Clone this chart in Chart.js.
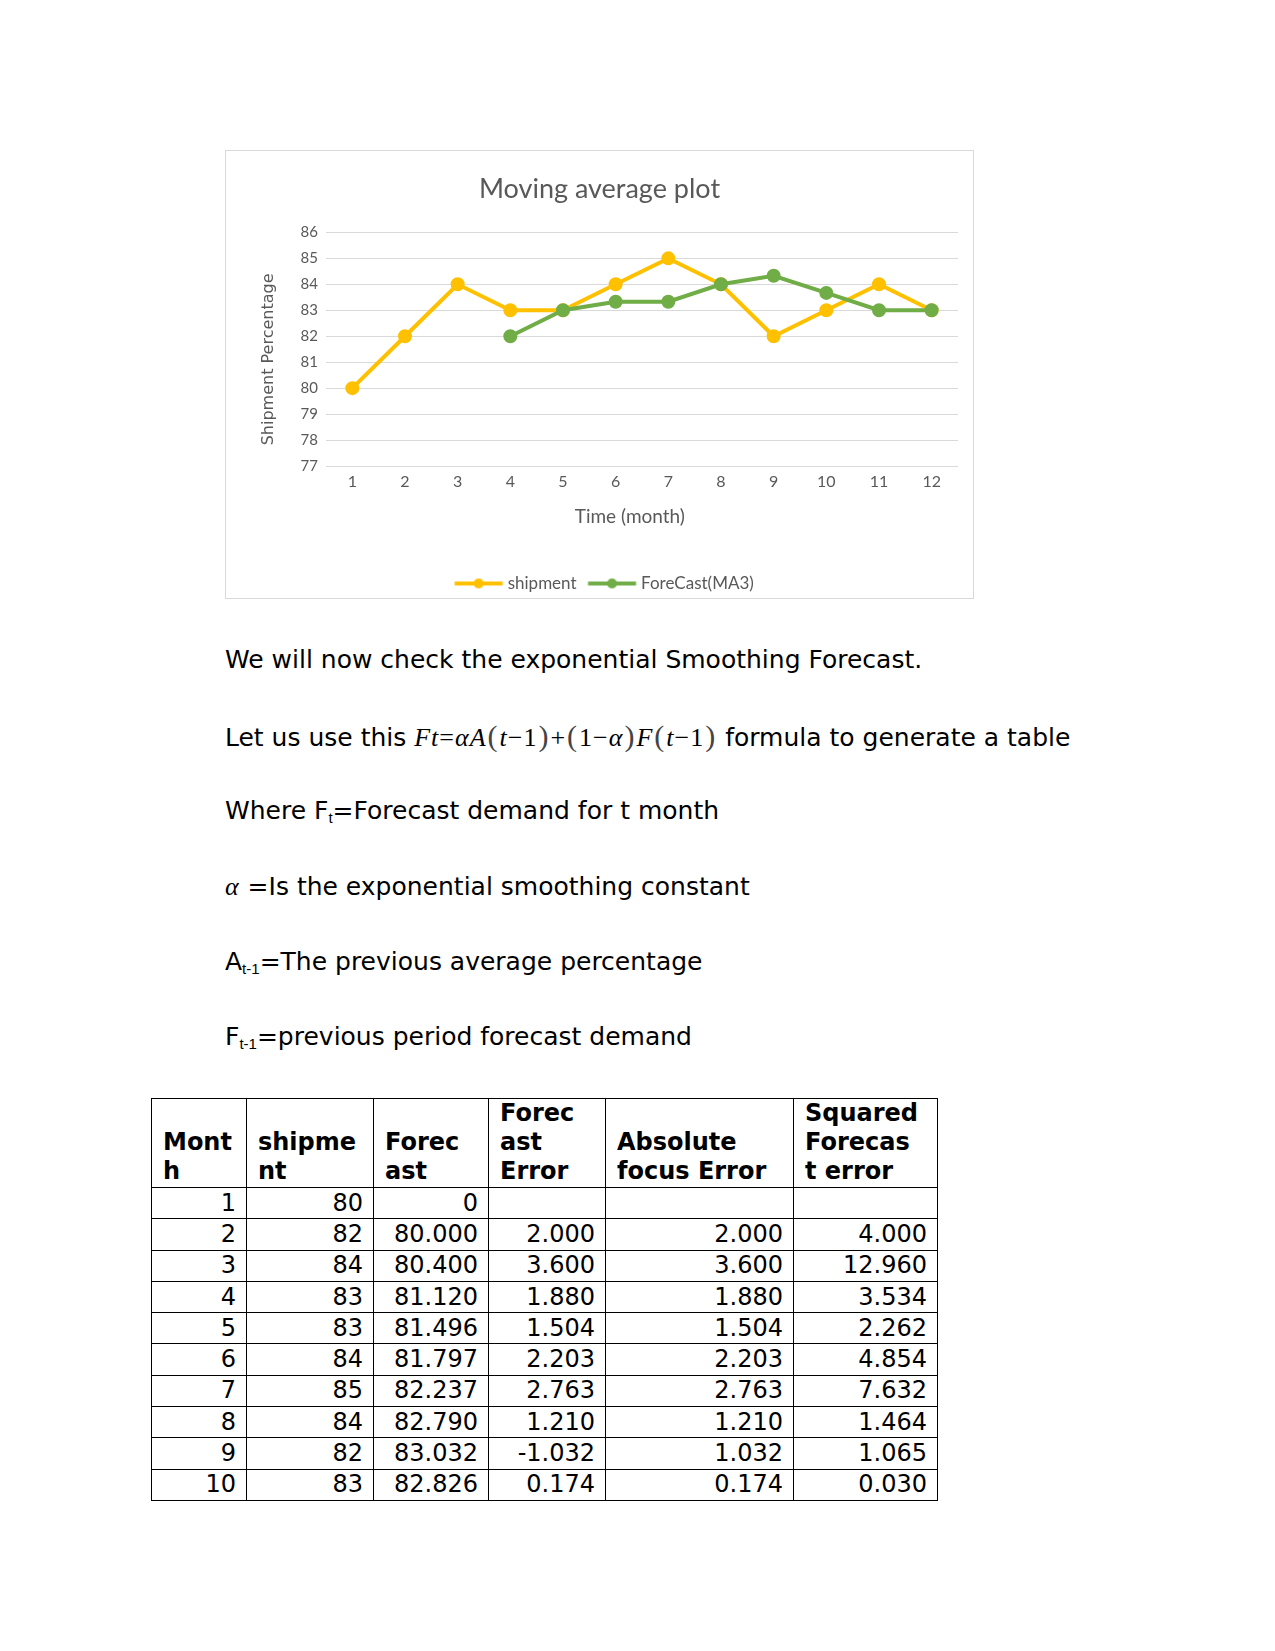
<!DOCTYPE html>
<html>
<head>
<meta charset="utf-8">
<script src="https://cdn.jsdelivr.net/npm/chart.js@4.4.1/dist/chart.umd.min.js"></script>
<style>
  body { margin: 0; background: #fff; width: 1275px; height: 1651px; position: relative; font-family: "DejaVu Sans", sans-serif; color: #000; }
  #chartBox { position: absolute; left: 225px; top: 150px; width: 749px; height: 449px; border: 1px solid #d9d9d9; box-sizing: border-box; }
  #lineChart { position: absolute; left: 0; top: 0; }
  .line { position: absolute; left: 225px; font-size: 25px; line-height: 30px; white-space: nowrap; }
  .m { font-family: "Liberation Serif", serif; font-size: 26px; letter-spacing: 1px; }
  .m i { font-style: italic; }
  .p { font-size: 30px; color: #444; font-weight: 300; margin: 0 1px; }
  sub { font-family: "Liberation Sans", sans-serif; font-size: 15px; vertical-align: -4px; line-height: 0; }
  table { position: absolute; left: 151px; top: 1098px; border-collapse: collapse; font-size: 24px; }
  td, th { border: 1px solid #000; padding: 0 10px 0 11px; line-height: 29px; }
  th { text-align: left; vertical-align: bottom; font-weight: bold; padding-bottom: 1px; }
  td { text-align: right; height: 30.3px; }
</style>
</head>
<body>
<div id="chartBox"><canvas id="lineChart" width="747" height="455"></canvas></div>

<div class="line" style="top:645px">We will now check the exponential Smoothing Forecast.</div>
<div class="line" style="top:721px">Let us use this <span class="m"><i>Ft</i>=<i>αA</i><span class="p">(</span><i>t</i>−1<span class="p">)</span>+<span class="p">(</span>1−<i>α</i><span class="p">)</span><i>F</i><span class="p">(</span><i>t</i>−1<span class="p">)</span></span> formula to generate a table</div>
<div class="line" style="top:796px">Where F<sub>t</sub>=Forecast demand for t month</div>
<div class="line" style="top:872px"><span class="m"><i>α</i></span> =Is the exponential smoothing constant</div>
<div class="line" style="top:947px">A<sub>t-1</sub>=The previous average percentage</div>
<div class="line" style="top:1022px">F<sub>t-1</sub>=previous period forecast demand</div>

<table id="tbl">
  <colgroup>
    <col style="width:95px"><col style="width:127px"><col style="width:115px"><col style="width:117px"><col style="width:188px"><col style="width:144px">
  </colgroup>
  <thead>
    <tr style="height:89px">
      <th>Mont<br>h</th><th>shipme<br>nt</th><th>Forec<br>ast</th><th>Forec<br>ast<br>Error</th><th>Absolute<br>focus Error</th><th>Squared<br>Forecas<br>t error</th>
    </tr>
  </thead>
  <tbody id="tbody"></tbody>
</table>

<script>
// Chart data
const months = ['1', '2', '3', '4', '5', '6', '7', '8', '9', '10', '11', '12'];
const shipment = [80, 82, 84, 83, 83, 84, 85, 84, 82, 83, 84, 83];
const forecastMA3 = [null, null, null, 82, 83, 83.33, 83.33, 84, 84.33, 83.67, 83, 83];
const yTicks = [77, 78, 79, 80, 81, 82, 83, 84, 85, 86];

// Table data (exponential smoothing)
const tMonth = [1, 2, 3, 4, 5, 6, 7, 8, 9, 10];
const tShipment = [80, 82, 84, 83, 83, 84, 85, 84, 82, 83];
const tForecast = ['0', '80.000', '80.400', '81.120', '81.496', '81.797', '82.237', '82.790', '83.032', '82.826'];
const tError = ['', '2.000', '3.600', '1.880', '1.504', '2.203', '2.763', '1.210', '-1.032', '0.174'];
const tAbsError = ['', '2.000', '3.600', '1.880', '1.504', '2.203', '2.763', '1.210', '1.032', '0.174'];
const tSqError = ['', '4.000', '12.960', '3.534', '2.262', '4.854', '7.632', '1.464', '1.065', '0.030'];

const tbody = document.getElementById('tbody');
tMonth.forEach((m, i) => {
    const tr = document.createElement('tr');
    [m, tShipment[i], tForecast[i], tError[i], tAbsError[i], tSqError[i]].forEach(v => {
        const td = document.createElement('td');
        td.textContent = v;
        tr.appendChild(td);
    });
    tbody.appendChild(tr);
});

// legend marker: line with a dot (some transparent room on the left for item spacing)
function legendMarker(color) {
    const c = document.createElement('canvas');
    c.width = 64; c.height = 14;
    const ctx = c.getContext('2d');
    ctx.strokeStyle = color;
    ctx.lineWidth = 4;
    ctx.beginPath();
    ctx.moveTo(14.5, 7); ctx.lineTo(62.5, 7);
    ctx.stroke();
    ctx.fillStyle = color;
    ctx.beginPath();
    ctx.arc(38.5, 7, 5, 0, Math.PI * 2);
    ctx.fill();
    return c;
}

const gold = '#FFC000';
const green = '#70AD47';
const grey = '#595959';

new Chart(document.getElementById('lineChart'), {
    type: 'line',
    data: {
        labels: months,
        datasets: [
            {
                label: 'shipment',
                data: shipment,
                borderColor: gold,
                backgroundColor: gold,
                borderWidth: 4,
                pointRadius: 5,
                pointHoverRadius: 5,
                tension: 0,
                order: 2,
            },
            {
                label: 'ForeCast(MA3)',
                data: forecastMA3,
                borderColor: green,
                backgroundColor: green,
                borderWidth: 4,
                pointRadius: 5,
                pointHoverRadius: 5,
                tension: 0,
                order: 1,
            },
        ],
    },
    options: {
        responsive: false,
        animation: false,
        layout: { padding: { top: 22, left: 15, right: 15, bottom: 4 } },
        plugins: {
            title: {
                display: true,
                text: 'Moving average plot',
                color: grey,
                font: { family: 'Lato', size: 27, weight: 'normal' },
                padding: { top: 0, bottom: 27 },
            },
            legend: {
                position: 'bottom',
                labels: {
                    color: grey,
                    font: { family: 'Lato', size: 17 },
                    usePointStyle: true,
                    pointStyleWidth: 54,
                    padding: 2,
                    sort: (a, b) => a.datasetIndex - b.datasetIndex,
                    generateLabels: chart => chart.data.datasets.map((ds, i) => ({
                        text: ds.label,
                        fontColor: grey,
                        pointStyle: legendMarker(ds.borderColor),
                        datasetIndex: i,
                        lineWidth: 0,
                        strokeStyle: 'transparent',
                        fillStyle: ds.borderColor,
                    })),
                },
            },
            tooltip: { enabled: false },
        },
        scales: {
            x: {
                offset: true,
                grid: { display: false, drawTicks: false },
                border: { display: false },
                ticks: { color: grey, font: { family: 'Lato', size: 16 }, padding: 6 },
                title: {
                    display: true,
                    text: 'Time (month)     ',
                    color: grey,
                    font: { family: 'Lato', size: 19 },
                    padding: { top: 0, bottom: 45 },
                },
                afterFit: s => { s.height = 107; },
            },
            y: {
                min: 77,
                max: 86,
                afterBuildTicks: s => { s.ticks = yTicks.map(v => ({ value: v })); },
                grid: { color: '#d9d9d9', lineWidth: 1, drawTicks: false },
                border: { display: false },
                ticks: { color: grey, font: { family: 'Lato', size: 15 }, padding: 8 },
                title: {
                    display: true,
                    text: 'Shipment Percentage    ',
                    color: grey,
                    font: { family: 'DejaVu Sans', size: 16 },
                    padding: { top: 18, bottom: 0 },
                },
                afterFit: s => { s.width = 85; },
            },
        },
    },
});
</script>
</body>
</html>
